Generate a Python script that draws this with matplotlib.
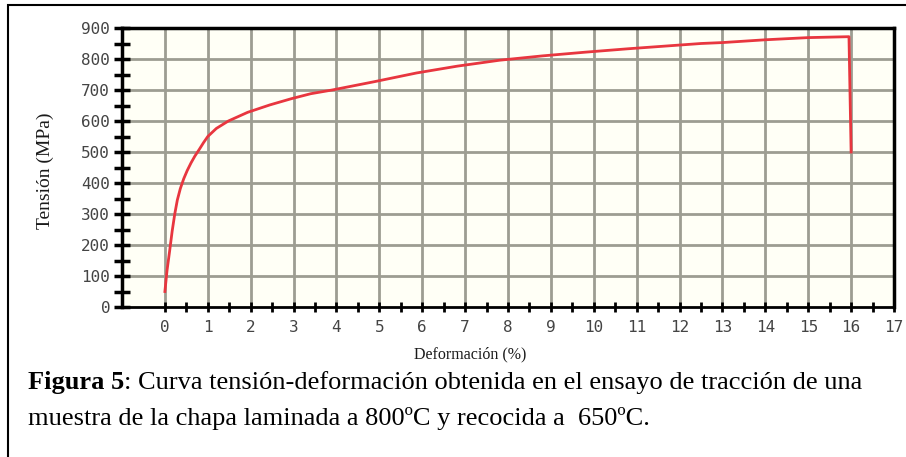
import numpy as np
import matplotlib
matplotlib.use("Agg")
import matplotlib.pyplot as plt
from matplotlib.patches import Rectangle

# curva tension-deformacion
strain = [0.0, 0.05, 0.11, 0.17, 0.23, 0.29, 0.36, 0.44, 0.52, 0.61, 0.70, 0.80, 0.90, 1.0,
          1.2, 1.48, 1.93, 2.45, 2.95, 3.4, 3.9, 4.89, 5.87, 6.82, 7.8, 8.8, 9.8,
          10.8, 11.8, 12.5, 13.0, 14.0, 15.0, 15.95, 16.0]
stress = [50, 118, 180, 245, 300, 345, 382, 414, 440, 465, 487, 508, 530, 550,
          576, 600, 628, 652, 672, 688, 700, 727, 755, 777, 796, 810, 822,
          833, 843, 850, 853, 862, 869, 872, 500]

xticks = np.arange(0, 18)
yticks = np.arange(0, 1000, 100)

caption_bold = "Figura 5"
caption_rest = ": Curva tensión-deformación obtenida en el ensayo de tracción de una"
caption_line2 = "muestra de la chapa laminada a 800ºC y recocida a  650ºC."

W, H = 906, 457
fig = plt.figure(figsize=(W / 100, H / 100), dpi=100)

# marco exterior (abierto por la derecha y por abajo)
fig.patches.append(Rectangle((8 / W, -0.2), 1.2, 1.2 - 5 / H, transform=fig.transFigure,
                             fill=False, edgecolor='black', linewidth=1.5))

ax = fig.add_axes([122 / W, 1 - 307 / H, (894 - 122) / W, (307 - 28) / H])
ax.set_facecolor('#fffff6')
ax.set_xlim(-1, 17)
ax.set_ylim(0, 900)

gcol = '#9d9d92'
for xv in xticks[:-1]:
    ax.axvline(xv, color=gcol, lw=2, zorder=1)
for yv in yticks[1:-1]:
    ax.axhline(yv, color=gcol, lw=2, zorder=1)

ax.plot(strain, stress, color='#e8363f', lw=2, zorder=3)

for s in ['top', 'right', 'left']:
    ax.spines[s].set_linewidth(2.5)
ax.spines['bottom'].set_linewidth(2)

ax.set_xticks(xticks)
ax.set_xticks(np.arange(0.5, 17, 1.0), minor=True)
ax.set_yticks(yticks)
ax.set_yticks(np.arange(50, 900, 100), minor=True)
ax.tick_params(axis='x', which='both', direction='inout', length=7, width=2, color='black')
ax.tick_params(axis='y', which='both', direction='inout', length=11, width=2.5, color='black')
ax.tick_params(axis='x', which='major', pad=6)
ax.tick_params(axis='y', which='major', pad=3)

for lab in ax.get_xticklabels() + ax.get_yticklabels():
    lab.set_family('DejaVu Sans Mono')
    lab.set_fontsize(11.5)
    lab.set_color('#444444')

fig.text(470 / W, 1 - 354 / H, "Deformación (%)", family='Liberation Serif', fontsize=11.5,
         ha='center', va='center', color='#1a1a1a')
fig.text(45 / W, 1 - 171 / H, "Tensión (MPa)", family='Liberation Serif', fontsize=14,
         ha='center', va='center', rotation=90, color='#1a1a1a')

t1 = fig.text(28 / W, 1 - 383 / H, caption_bold, family='Liberation Serif', fontsize=19,
              fontweight='bold', ha='left', va='center')
ax.annotate(caption_rest, xy=(1, 0), xycoords=t1, family='Liberation Serif', fontsize=19,
            ha='left', va='bottom', annotation_clip=False)
fig.text(28 / W, 1 - 418 / H, caption_line2, family='Liberation Serif', fontsize=19,
         ha='left', va='center')

fig.savefig("out.png", dpi=100)
